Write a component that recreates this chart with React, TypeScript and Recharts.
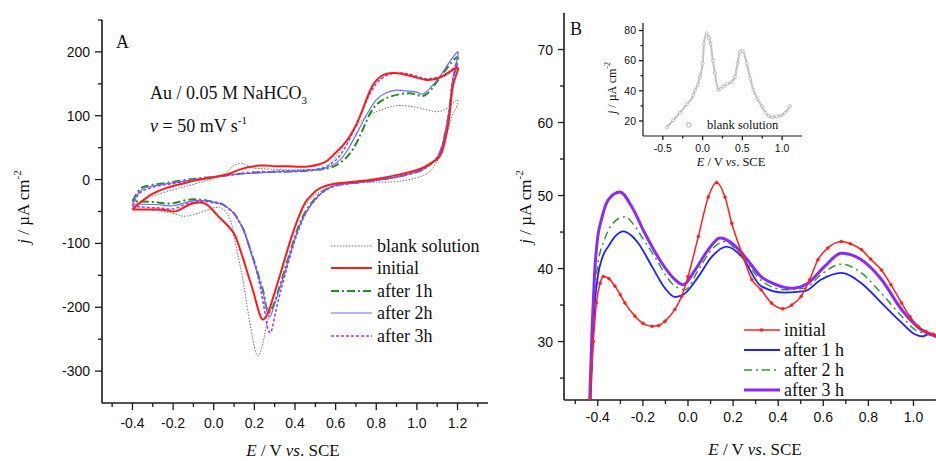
import React from "react";
import { LineChart, Line, XAxis, YAxis } from "recharts";

type P = [number, number];

// ---------- Panel A: cyclic voltammograms (E / V, j / µA cm-2), in sweep order ----------
const cvBlank: P[] = [
  [-0.4, -47], [-0.38, -42], [-0.36, -36], [-0.3, -26], [-0.2, -16], [-0.13, -10], [-0.05, -3], [0.015, 3],
  [0.06, 10], [0.095, 21], [0.138, 25], [0.17, 21], [0.2, 18], [0.3, 16], [0.4, 15], [0.5, 16], [0.55, 19],
  [0.6, 35], [0.656, 62], [0.7, 82], [0.755, 99], [0.85, 112], [0.92, 116], [1.0, 113], [1.085, 107],
  [1.15, 112], [1.2, 125],
  [1.19, 110], [1.167, 94], [1.13, 52], [1.085, 21], [1.02, 5], [0.9, -3], [0.8, -4], [0.7, -5], [0.6, -8],
  [0.52, -20], [0.46, -36], [0.39, -83], [0.31, -167], [0.26, -229], [0.245, -252], [0.22, -276], [0.2, -262],
  [0.187, -240], [0.165, -200], [0.146, -161], [0.12, -120], [0.096, -83], [0.08, -62], [0.03, -44],
  [-0.05, -50], [-0.13, -57], [-0.17, -56], [-0.215, -52], [-0.3, -48], [-0.4, -47],
];
const cvInitial: P[] = [
  [-0.4, -47], [-0.37, -38], [-0.33, -28], [-0.3, -22], [-0.232, -13], [-0.15, -6], [-0.068, 0], [0.064, 8],
  [0.13, 16], [0.229, 22], [0.3, 21], [0.36, 21], [0.42, 20], [0.475, 21], [0.52, 24], [0.56, 30], [0.6, 42],
  [0.657, 62], [0.72, 99], [0.77, 140], [0.82, 161], [0.886, 167], [0.985, 161], [1.05, 156],
  [1.12, 161], [1.2, 175],
  [1.18, 150], [1.16, 100], [1.13, 50], [1.1, 32], [1.05, 22], [1.0, 15], [0.9, 7], [0.8, 1], [0.7, -3],
  [0.6, -6], [0.55, -10], [0.51, -16], [0.47, -28], [0.44, -42], [0.39, -83], [0.34, -135], [0.29, -187],
  [0.265, -210], [0.245, -219], [0.225, -210], [0.196, -177], [0.17, -150], [0.146, -125], [0.12, -100],
  [0.097, -83], [0.05, -66], [0.015, -55], [-0.03, -40], [-0.07, -36], [-0.12, -39], [-0.18, -49],
  [-0.22, -49], [-0.27, -47], [-0.4, -47],
];
const cvAfter1h: P[] = [
  [-0.4, -34], [-0.38, -22], [-0.36, -14], [-0.33, -10], [-0.23, -5], [-0.1, 1], [0.0, 4], [0.1, 8],
  [0.18, 11], [0.3, 12], [0.426, 13], [0.5, 15], [0.55, 17], [0.6, 22], [0.66, 37], [0.71, 62], [0.755, 94],
  [0.8, 117], [0.87, 130], [0.95, 135], [1.0, 133], [1.03, 131], [1.07, 141], [1.13, 167], [1.2, 192],
  [1.18, 160], [1.16, 110], [1.13, 60], [1.1, 35], [1.05, 20], [1.0, 12], [0.9, 4], [0.8, -1], [0.7, -5],
  [0.59, -10], [0.51, -26], [0.44, -57], [0.39, -99], [0.34, -151], [0.31, -182], [0.29, -200],
  [0.28, -203], [0.27, -208], [0.255, -195], [0.245, -177], [0.22, -150], [0.196, -125], [0.17, -100],
  [0.146, -78], [0.12, -63], [0.097, -52], [0.05, -40], [0.015, -36], [-0.05, -32], [-0.1, -31],
  [-0.15, -33], [-0.2, -37], [-0.25, -37], [-0.3, -35], [-0.4, -34],
];
const cvAfter2h: P[] = [
  [-0.4, -38], [-0.38, -25], [-0.35, -15], [-0.3, -10], [-0.2, -5], [-0.1, 0], [0.0, 4], [0.1, 8],
  [0.2, 10], [0.3, 12], [0.4, 13], [0.5, 15], [0.55, 18], [0.6, 25], [0.65, 42], [0.7, 70], [0.75, 100],
  [0.8, 125], [0.85, 136], [0.9, 140], [0.95, 139], [1.0, 137], [1.03, 134], [1.07, 145], [1.12, 165],
  [1.2, 200],
  [1.18, 165], [1.16, 110], [1.13, 60], [1.1, 35], [1.05, 20], [1.0, 12], [0.9, 4], [0.8, -1], [0.7, -5],
  [0.59, -10], [0.51, -27], [0.44, -60], [0.39, -102], [0.34, -155], [0.31, -185], [0.29, -205],
  [0.275, -215], [0.26, -205], [0.245, -180], [0.22, -152], [0.196, -127], [0.17, -101], [0.146, -79],
  [0.12, -63], [0.097, -52], [0.05, -40], [0.015, -36], [-0.05, -33], [-0.1, -33], [-0.15, -37],
  [-0.2, -41], [-0.25, -40], [-0.3, -39], [-0.4, -38],
];
const cvAfter3h: P[] = [
  [-0.4, -42], [-0.38, -28], [-0.36, -20], [-0.3, -12], [-0.2, -6], [-0.1, -1], [0.0, 4], [0.1, 8],
  [0.2, 11], [0.3, 13], [0.4, 14], [0.5, 16], [0.55, 20], [0.6, 30], [0.65, 52], [0.7, 85], [0.75, 122],
  [0.8, 150], [0.85, 163], [0.9, 167], [0.95, 166], [1.0, 162], [1.05, 158], [1.1, 160], [1.15, 165],
  [1.2, 182],
  [1.18, 160], [1.16, 110], [1.13, 60], [1.1, 35], [1.05, 20], [1.0, 12], [0.9, 4], [0.8, -1], [0.7, -5],
  [0.59, -11], [0.51, -28], [0.45, -55], [0.4, -95], [0.35, -150], [0.31, -200], [0.29, -230],
  [0.278, -240], [0.265, -232], [0.25, -205], [0.22, -155], [0.196, -127], [0.17, -100], [0.146, -78],
  [0.12, -63], [0.097, -52], [0.05, -40], [0.015, -37], [-0.05, -34], [-0.1, -35], [-0.15, -40],
  [-0.2, -46], [-0.25, -45], [-0.3, -44], [-0.4, -42],
];

// ---------- Panel B: DPV curves ----------
const dpInitial: P[] = [
  [-0.436, 22], [-0.42, 30], [-0.406, 35.3], [-0.39, 38], [-0.376, 38.9], [-0.35, 38.6], [-0.324, 37.6],
  [-0.3, 36.4], [-0.28, 35.3], [-0.236, 33.5], [-0.2, 32.5], [-0.16, 32.1], [-0.13, 32.2], [-0.102, 32.8],
  [-0.058, 34.4], [-0.028, 36.2], [0.0, 38.9], [0.046, 44.4], [0.09, 49.8], [0.127, 51.8], [0.164, 49.8],
  [0.194, 46.2], [0.239, 42.1], [0.283, 38.5], [0.324, 37.1], [0.37, 35.3], [0.42, 34.5], [0.46, 35],
  [0.502, 36.2], [0.54, 38.5], [0.576, 41.2], [0.62, 42.8], [0.68, 43.7], [0.72, 43.4], [0.769, 42.6],
  [0.81, 41.3], [0.858, 39.8], [0.9, 37.8], [0.947, 35.3], [0.985, 33.4], [1.02, 32.1], [1.055, 31.4],
  [1.087, 31.0], [1.1, 30.8],
];
const dpAfter1h: P[] = [
  [-0.432, 22], [-0.42, 32], [-0.4, 38.9], [-0.38, 41.5], [-0.354, 43.0], [-0.32, 44.5], [-0.288, 45.1],
  [-0.25, 44.5], [-0.221, 43.5], [-0.16, 40.3], [-0.102, 37.3], [-0.058, 36.1], [-0.013, 36.6],
  [0.046, 38.9], [0.105, 41.6], [0.172, 43.0], [0.239, 41.6], [0.324, 37.6], [0.428, 36.7], [0.517, 36.9],
  [0.591, 38.5], [0.68, 39.4], [0.769, 38.0], [0.858, 35.3], [0.947, 32.6], [1.006, 31.0], [1.04, 30.7],
  [1.065, 31.0], [1.1, 30.6],
];
const dpAfter2h: P[] = [
  [-0.432, 22], [-0.42, 33], [-0.4, 40.5], [-0.37, 44], [-0.33, 46.3], [-0.28, 47.1], [-0.24, 46],
  [-0.206, 44.4], [-0.147, 41.6], [-0.072, 38.0], [-0.013, 37.1], [0.046, 39.8], [0.105, 42.6],
  [0.164, 43.7], [0.24, 41.6], [0.324, 38.4], [0.428, 37.1], [0.517, 37.3], [0.591, 39.2], [0.68, 40.6],
  [0.769, 39.4], [0.858, 36.6], [0.947, 33.5], [1.02, 31.4], [1.1, 30.9],
];
const dpAfter3h: P[] = [
  [-0.436, 22], [-0.425, 32], [-0.415, 39], [-0.4, 44.4], [-0.384, 46.7], [-0.354, 49.4], [-0.302, 50.5],
  [-0.25, 48.5], [-0.191, 44.8], [-0.117, 40.8], [-0.058, 38.5], [-0.021, 37.8], [0.031, 39.8],
  [0.09, 42.6], [0.142, 44.2], [0.194, 43.5], [0.253, 41.6], [0.324, 38.9], [0.39, 37.8], [0.458, 37.3],
  [0.532, 38.0], [0.606, 40.3], [0.68, 42.1], [0.769, 41.2], [0.858, 38.5], [0.947, 34.4], [1.036, 31.6],
  [1.1, 30.8],
];

// ---------- Inset: blank solution DPV ----------
const dpBlank: P[] = [
  [-0.45, 15.7], [-0.37, 20.5], [-0.286, 25.5], [-0.2, 31], [-0.118, 37], [-0.097, 40.3], [-0.06, 44],
  [-0.034, 49.4], [0.0, 58], [0.016, 71.2], [0.05, 78.2], [0.08, 75], [0.1, 71.2], [0.13, 60], [0.155, 51.6],
  [0.197, 40.7], [0.23, 41.5], [0.26, 42.9], [0.31, 44.5], [0.366, 46.1], [0.407, 49.4], [0.44, 58],
  [0.47, 65.8], [0.504, 66.4], [0.555, 58.2], [0.6, 48], [0.638, 40.7], [0.69, 34.5], [0.744, 29.8],
  [0.79, 25.5], [0.828, 23.3], [0.88, 22.6], [0.933, 22.9], [0.99, 23.8], [1.04, 25.5], [1.1, 29.8],
];

// ---------- Tick values ----------
const aXTicks = [-0.5, -0.4, -0.3, -0.2, -0.1, 0, 0.1, 0.2, 0.3, 0.4, 0.5, 0.6, 0.7, 0.8, 0.9, 1.0, 1.1, 1.2, 1.3];
const aYTicks = [-300, -250, -200, -150, -100, -50, 0, 50, 100, 150, 200, 250];
const bXTicks = [-0.5, -0.4, -0.3, -0.2, -0.1, 0, 0.1, 0.2, 0.3, 0.4, 0.5, 0.6, 0.7, 0.8, 0.9, 1.0];
const bYTicks = [25, 30, 35, 40, 45, 50, 55, 60, 65, 70];
const iXTicks = [-0.5, -0.25, 0, 0.25, 0.5, 0.75, 1.0];
const iYTicks = [20, 30, 40, 50, 60, 70, 80];

const toPts = (a: P[]) => a.map(([E, j]) => ({ E, j }));

const serif = '"Liberation Serif", "Times New Roman", serif';
const sans = '"Liberation Sans", Arial, sans-serif';
const AX = "#1a1a1a";

const xTick = (isMajor: (v: number) => boolean, fmt: (v: number) => string, majLen: number, minLen: number, dy: number, fs: number) =>
  (props: any) => {
    const { x, y, payload } = props;
    const v = payload.value;
    const m = isMajor(v);
    return (
      <g>
        <line x1={x} x2={x} y1={y} y2={y + (m ? majLen : minLen)} stroke={AX} strokeWidth={1.3} />
        {m && (
          <text x={x} y={y + dy} textAnchor="middle" fontSize={fs} fontFamily={sans} fill="#111">
            {fmt(v)}
          </text>
        )}
      </g>
    );
  };

const yTick = (isMajor: (v: number) => boolean, majLen: number, minLen: number, gap: number, fs: number) =>
  (props: any) => {
    const { x, y, payload } = props;
    const v = payload.value;
    const m = isMajor(v);
    return (
      <g>
        <line x1={x} x2={x - (m ? majLen : minLen)} y1={y} y2={y} stroke={AX} strokeWidth={1.3} />
        {m && (
          <text x={x - gap} y={y + fs * 0.36} textAnchor="end" fontSize={fs} fontFamily={sans} fill="#111">
            {String(v)}
          </text>
        )}
      </g>
    );
  };

const evenTenth = (v: number) => Math.round(v * 10) % 2 === 0;

export default function App() {
  const axisLine = { stroke: AX, strokeWidth: 1.6 };
  return (
    <div style={{ position: "absolute", left: 0, top: 0, width: 936, height: 461, background: "#fff", overflow: "hidden" }}>
      {/* Panel A */}
      <div style={{ position: "absolute", left: 0, top: 0 }}>
        <LineChart width={500} height={461} margin={{ top: 20, right: 12, bottom: 0, left: 0 }}>
          <XAxis dataKey="E" type="number" domain={[-0.55, 1.35]} allowDataOverflow ticks={aXTicks} interval={0}
            height={58} tickSize={0} tickMargin={0} axisLine={axisLine} tickLine={false}
            tick={xTick(evenTenth, (v) => v.toFixed(1), 7, 4, 25, 14)} />
          <YAxis dataKey="j" type="number" domain={[-350, 250]} allowDataOverflow ticks={aYTicks} interval={0}
            width={102} tickSize={0} tickMargin={0} axisLine={axisLine} tickLine={false}
            tick={yTick((v) => v % 100 === 0, 7, 4, 12, 14)} />
          <Line data={toPts(cvBlank)} dataKey="j" type="natural" stroke="#777" strokeWidth={1} strokeDasharray="1.5 1.5" dot={false} isAnimationActive={false} />
          <Line data={toPts(cvAfter1h)} dataKey="j" type="natural" stroke="#1f8f1f" strokeWidth={2} strokeDasharray="8 3 2 3" dot={false} isAnimationActive={false} />
          <Line data={toPts(cvAfter2h)} dataKey="j" type="natural" stroke="#6b6bff" strokeWidth={1.2} dot={false} isAnimationActive={false} />
          <Line data={toPts(cvAfter3h)} dataKey="j" type="natural" stroke="#9a3cff" strokeWidth={1.5} strokeDasharray="3 2" dot={false} isAnimationActive={false} />
          <Line data={toPts(cvInitial)} dataKey="j" type="natural" stroke="#ff1a1a" strokeWidth={2} dot={false} isAnimationActive={false} />
        </LineChart>
      </div>

      {/* Panel B */}
      <div style={{ position: "absolute", left: 470, top: 0 }}>
        <LineChart width={466} height={461} margin={{ top: 13, right: 0, bottom: 0, left: 0 }}>
          <XAxis dataKey="E" type="number" domain={[-0.55, 1.1]} allowDataOverflow ticks={bXTicks} interval={0}
            height={61} tickSize={0} tickMargin={0} axisLine={axisLine} tickLine={false}
            tick={xTick(evenTenth, (v) => v.toFixed(1), 6, 4, 22, 14)} />
          <YAxis dataKey="j" type="number" domain={[22, 75]} allowDataOverflow ticks={bYTicks} interval={0}
            width={94} tickSize={0} tickMargin={0} axisLine={axisLine} tickLine={false}
            tick={yTick((v) => v % 10 === 0, 6, 4, 11, 14)} />
          <Line data={toPts(dpAfter1h)} dataKey="j" type="monotone" stroke="#1f1fff" strokeWidth={1.8} dot={false} isAnimationActive={false} />
          <Line data={toPts(dpAfter2h)} dataKey="j" type="monotone" stroke="#2e9a2e" strokeWidth={1.5} strokeDasharray="8 4 2 4" dot={false} isAnimationActive={false} />
          <Line data={toPts(dpAfter3h)} dataKey="j" type="monotone" stroke="#8b2cf5" strokeWidth={3} dot={false} isAnimationActive={false} />
          <Line data={toPts(dpInitial)} dataKey="j" type="monotone" stroke="#ff1f1f" strokeWidth={1.5}
            dot={{ r: 1.5, fill: "#ff1f1f", stroke: "#ff1f1f", strokeWidth: 0.5 }} isAnimationActive={false} />
        </LineChart>
      </div>

      {/* Inset */}
      <div style={{ position: "absolute", left: 600, top: 0 }}>
        <LineChart width={202} height={170} margin={{ top: 23, right: 0, bottom: 0, left: 0 }}>
          <XAxis dataKey="E" type="number" domain={[-0.75, 1.25]} allowDataOverflow ticks={iXTicks} interval={0}
            height={34} tickSize={0} tickMargin={0} axisLine={{ stroke: AX, strokeWidth: 1.2 }} tickLine={false}
            tick={xTick((v) => Math.abs(v * 2 - Math.round(v * 2)) < 1e-6, (v) => v.toFixed(1), 4, 2.5, 16, 10.5)} />
          <YAxis dataKey="j" type="number" domain={[10, 85]} allowDataOverflow ticks={iYTicks} interval={0}
            width={43} tickSize={0} tickMargin={0} axisLine={{ stroke: AX, strokeWidth: 1.2 }} tickLine={false}
            tick={yTick((v) => v % 20 === 0, 4, 2.5, 7, 10.5)} />
          <Line data={toPts(dpBlank)} dataKey="j" type="monotone" stroke="#c6c6c6" strokeWidth={2.2}
            dot={{ r: 1.5, fill: "#fff", stroke: "#a8a8a8", strokeWidth: 0.7 }} isAnimationActive={false} />
        </LineChart>
      </div>

      {/* Text and legends */}
      <svg width={936} height={461} style={{ position: "absolute", left: 0, top: 0, pointerEvents: "none" }}>
        <g fontFamily={serif} fill="#111">
          {/* Panel A annotations */}
          <text x={116} y={48} fontSize={18}>A</text>
          <text x={150} y={99} fontSize={18}>
            Au / 0.05 M NaHCO<tspan fontSize={11} dy={5}>3</tspan>
          </text>
          <text x={150} y={132} fontSize={18}>
            <tspan fontStyle="italic">v</tspan> = 50 mV s<tspan fontSize={11} dy={-8}>-1</tspan>
          </text>

          {/* Legend A */}
          <line x1={331} x2={372} y1={246} y2={246} stroke="#777" strokeWidth={1} strokeDasharray="1.5 1.5" />
          <line x1={331} x2={372} y1={268} y2={268} stroke="#ff1a1a" strokeWidth={2} />
          <line x1={331} x2={372} y1={291} y2={291} stroke="#1f8f1f" strokeWidth={2} strokeDasharray="8 3 2 3" />
          <line x1={331} x2={372} y1={313} y2={313} stroke="#6b6bff" strokeWidth={1.2} />
          <line x1={331} x2={372} y1={336} y2={336} stroke="#9a3cff" strokeWidth={1.5} strokeDasharray="3 2" />
          <text x={377} y={252} fontSize={18}>blank solution</text>
          <text x={377} y={274} fontSize={18}>initial</text>
          <text x={377} y={297} fontSize={18}>after 1h</text>
          <text x={377} y={319} fontSize={18}>after 2h</text>
          <text x={377} y={342} fontSize={18}>after 3h</text>

          {/* Axis titles A */}
          <text x={293} y={456} fontSize={17} textAnchor="middle">
            <tspan fontStyle="italic">E</tspan> / V <tspan fontStyle="italic">vs</tspan>. SCE
          </text>
          <text transform="translate(29,207) rotate(-90)" fontSize={17} textAnchor="middle">
            <tspan fontStyle="italic">j</tspan> / µA cm<tspan fontSize={11} dy={-8}>-2</tspan>
          </text>

          {/* Panel B annotations */}
          <text x={570} y={35} fontSize={18}>B</text>
          <line x1={744} x2={780} y1={330} y2={330} stroke="#ff1f1f" strokeWidth={1.5} />
          <rect x={760} y={328.5} width={3} height={3} fill="#ff1f1f" />
          <line x1={744} x2={780} y1={350} y2={350} stroke="#1f1fff" strokeWidth={1.8} />
          <line x1={744} x2={780} y1={370} y2={370} stroke="#2e9a2e" strokeWidth={1.5} strokeDasharray="8 4 2 4" />
          <line x1={744} x2={780} y1={390} y2={390} stroke="#8b2cf5" strokeWidth={3} />
          <text x={784} y={336} fontSize={18}>initial</text>
          <text x={784} y={356} fontSize={18}>after 1 h</text>
          <text x={784} y={376} fontSize={18}>after 2 h</text>
          <text x={784} y={396} fontSize={18}>after 3 h</text>

          {/* Axis titles B */}
          <text x={755} y={455} fontSize={17} textAnchor="middle">
            <tspan fontStyle="italic">E</tspan> / V <tspan fontStyle="italic">vs</tspan>. SCE
          </text>
          <text transform="translate(531,207) rotate(-90)" fontSize={17} textAnchor="middle">
            <tspan fontStyle="italic">j</tspan> / µA cm<tspan fontSize={11} dy={-8}>-2</tspan>
          </text>

          {/* Inset titles & legend */}
          <text transform="translate(616,88) rotate(-90)" fontSize={12} textAnchor="middle">
            <tspan fontStyle="italic">j</tspan> / µA cm<tspan fontSize={8} dy={-6}>-2</tspan>
          </text>
          <text x={731} y={166} fontSize={12.5} textAnchor="middle">
            <tspan fontStyle="italic">E</tspan> / V <tspan fontStyle="italic">vs</tspan>. SCE
          </text>
          <circle cx={689} cy={125} r={2.2} fill="#fff" stroke="#999" strokeWidth={0.8} />
          <text x={707} y={129} fontSize={12.5}>blank solution</text>
        </g>
      </svg>
    </div>
  );
}
